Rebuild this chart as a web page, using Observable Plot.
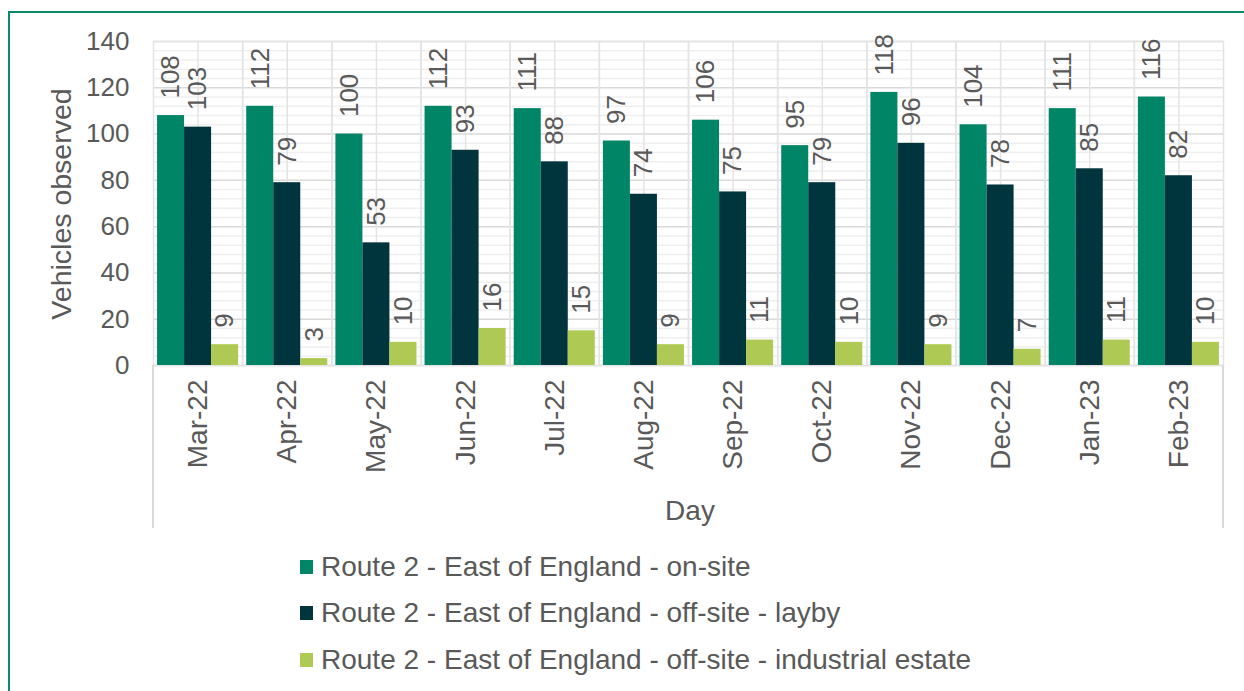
<!DOCTYPE html>
<html>
<head>
<meta charset="utf-8">
<script src="https://cdn.jsdelivr.net/npm/d3@7"></script>
<script src="https://cdn.jsdelivr.net/npm/@observablehq/plot@0.6"></script>
<style>
  html, body { margin: 0; padding: 0; background: #fff; }
  body { width: 1244px; height: 691px; position: relative; overflow: hidden;
         font-family: "Liberation Sans", Arial, sans-serif; color: #595959; }
  #border { position: absolute; left: 8px; top: 11px; width: 1400px; height: 900px;
            border-left: 2.5px solid #0b8a69; border-top: 2.5px solid #0b8a69; box-sizing: border-box; }
  #chart { position: absolute; left: 0; top: 0; }
  .vline { position: absolute; width: 2px; background: #d9d9d9; }
  #ylabel { position: absolute; left: 61px; top: 204px; transform: translate(-50%, -50%) rotate(-90deg);
            white-space: nowrap; font-size: 28.5px; }
  #xlabel { position: absolute; left: 690px; top: 511px; transform: translate(-50%, -50%);
            font-size: 28px; }
  #legend { position: absolute; left: 300px; top: 0; }
  .item { position: absolute; left: 0; height: 32px; display: flex; align-items: center; white-space: nowrap; font-size: 28px; }
  .sw { width: 13px; height: 14px; margin-right: 8px; }
</style>
</head>
<body>
<div id="border"></div>
<div id="chart"></div>
<div class="vline" style="left:152px; top:365px; height:163px;"></div>
<div class="vline" style="left:1222px; top:365px; height:163px;"></div>
<div id="ylabel">Vehicles observed</div>
<div id="xlabel">Day</div>
<div id="legend"></div>
<script>
const months = ["Mar-22","Apr-22","May-22","Jun-22","Jul-22","Aug-22","Sep-22","Oct-22","Nov-22","Dec-22","Jan-23","Feb-23"];
const seriesNames = [
  "Route 2 - East of England - on-site",
  "Route 2 - East of England - off-site - layby",
  "Route 2 - East of England - off-site - industrial estate"
];
const onSite     = [108,112,100,112,111, 97,106, 95,118,104,111,116];
const layby      = [103, 79, 53, 93, 88, 74, 75, 79, 96, 78, 85, 82];
const industrial = [  9,  3, 10, 16, 15,  9, 11, 10,  9,  7, 11, 10];
const colors = ["#008566", "#00353d", "#afca54"];
const yTicks = [0,20,40,60,80,100,120,140];

const seriesValues = [onSite, layby, industrial];
const rows = [];
months.forEach((m, i) => seriesNames.forEach((s, j) => rows.push({month: m, series: s, value: seriesValues[j][i]})));
const minorTicks = d3.range(0, 141, 4).filter(v => v % 20 !== 0);

const chart = Plot.plot({
  width: 1244,
  height: 540,
  marginLeft: 153,
  marginRight: 21,
  marginTop: 41,
  marginBottom: 175,
  style: {fontSize: "28px", fontFamily: "'Liberation Sans', Arial, sans-serif", color: "#595959", background: "transparent"},
  fx: {domain: months, padding: 0, round: false, axis: "bottom", tickRotate: -90, tickSize: 0, tickPadding: 14, label: null},
  x: {domain: seriesNames, paddingInner: 0, paddingOuter: 0.15, round: false, axis: null},
  y: {domain: [0, 140], ticks: yTicks, tickSize: 0, tickPadding: 24, label: null},
  color: {domain: seriesNames, range: colors},
  marks: [
    Plot.ruleY(minorTicks, {stroke: "#efefef", strokeWidth: 1.5}),
    Plot.ruleY(yTicks, {stroke: "#d9d9d9", strokeWidth: 1.5}),
    Plot.frame({stroke: "#e4e4e4", strokeWidth: 1.5}),
    Plot.ruleX([seriesNames[1]], {x: d => d, stroke: "#e4e4e4", strokeWidth: 1.5}),
    Plot.barY(rows, {fx: "month", x: "series", y: "value", fill: "series"}),
    Plot.text(rows, {fx: "month", x: "series", y: "value", text: d => String(d.value),
      rotate: -90, textAnchor: "start", dy: -17, fill: "#595959", fontSize: 26})
  ]
});
// numeric y tick labels slightly smaller than the text labels
d3.select(chart).selectAll('[aria-label="y-axis tick label"]').attr("font-size", 26);
document.getElementById("chart").appendChild(chart);

const legend = document.getElementById("legend");
const centers = [567, 613, 660];
seriesNames.forEach((s, i) => {
  const it = document.createElement("div");
  it.className = "item";
  it.style.top = (centers[i] - 16) + "px";
  const sw = document.createElement("div");
  sw.className = "sw";
  sw.style.background = colors[i];
  const tx = document.createElement("span");
  tx.textContent = s;
  it.appendChild(sw); it.appendChild(tx);
  legend.appendChild(it);
});
</script>
</body>
</html>
